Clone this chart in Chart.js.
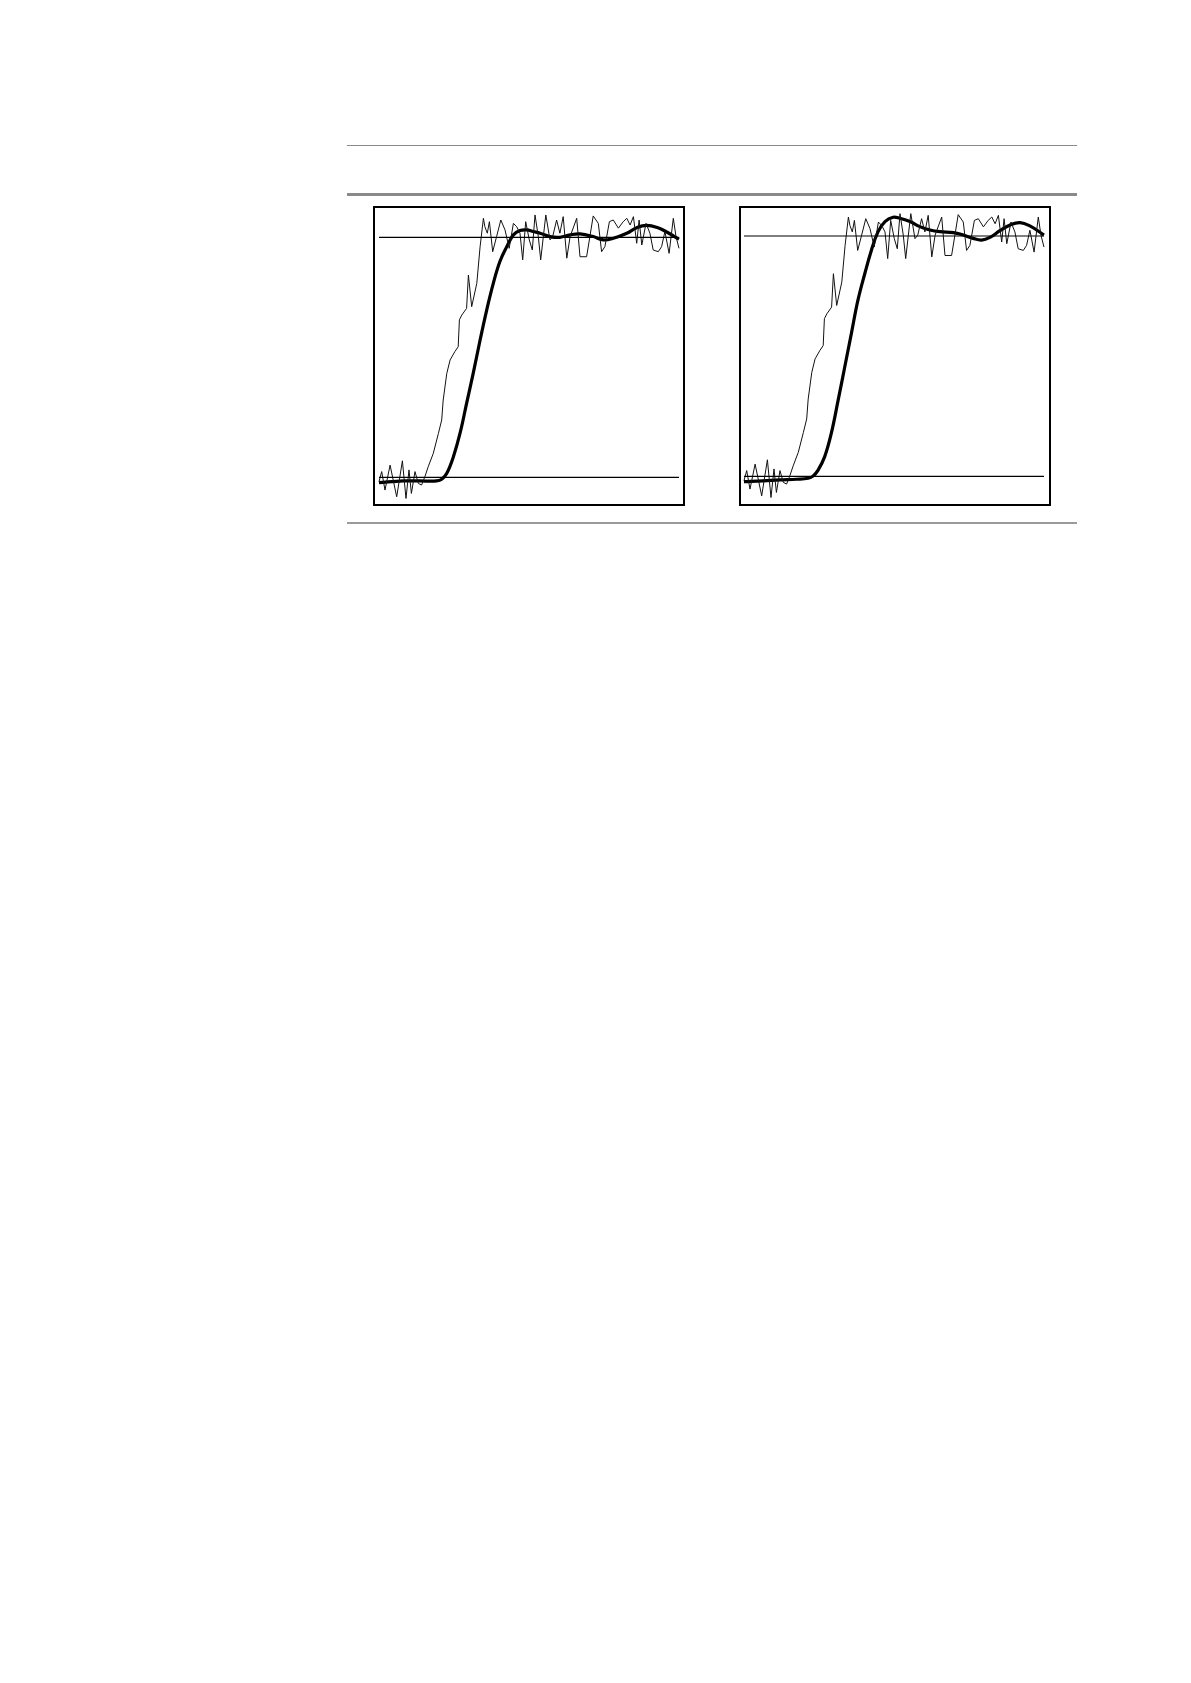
<!DOCTYPE html>
<html>
<head>
<meta charset="utf-8">
<script src="https://cdn.jsdelivr.net/npm/chart.js@4.4.1/dist/chart.umd.min.js"></script>
<style>
  body { margin: 0; background: #fff; width: 1191px; height: 1683px; position: relative; }
  .rule { position: absolute; left: 347px; width: 730px; background: #8a8a8a; }
  .panel { position: absolute; top: 206px; width: 312px; height: 300px; border: 2px solid #000; box-sizing: border-box; }
  .panel canvas { display: block; }
</style>
</head>
<body>
<div class="rule" style="top:145px;height:1px;"></div>
<div class="rule" style="top:193px;height:3px;"></div>
<div class="rule" style="top:522px;height:2px;background:#9a9a9a;"></div>

<div class="panel" style="left:373px;"><canvas id="stepLeft" width="308" height="296"></canvas></div>
<div class="panel" style="left:739px;"><canvas id="stepRight" width="308" height="296"></canvas></div>

<script>
// measured (noisy) step, same in both panels
const noiseT = [0, 0.009, 0.020, 0.037, 0.059, 0.078, 0.090, 0.100, 0.108, 0.120, 0.131, 0.142, 0.153,
  0.164, 0.181, 0.198, 0.209, 0.214, 0.226, 0.237, 0.253, 0.264, 0.268, 0.276, 0.292, 0.298, 0.309,
  0.326, 0.337, 0.348, 0.353, 0.361, 0.368, 0.379, 0.392, 0.406, 0.420, 0.434, 0.448, 0.459, 0.470,
  0.479, 0.489, 0.501, 0.511, 0.520, 0.531, 0.539, 0.556, 0.570, 0.579, 0.592, 0.603, 0.614, 0.626,
  0.637, 0.659, 0.670, 0.692, 0.703, 0.714, 0.731, 0.742, 0.753, 0.768, 0.781, 0.798, 0.814, 0.826,
  0.837, 0.848, 0.859, 0.867, 0.876, 0.890, 0.903, 0.914, 0.931, 0.942, 0.953, 0.967, 0.981, 0.990, 1.000];
const noiseV = [-0.018, 0.024, -0.053, 0.051, -0.081, 0.069, -0.088, 0.031, -0.067, 0.024, -0.025, -0.032, 0.003,
  0.044, 0.100, 0.183, 0.239, 0.322, 0.433, 0.489, 0.524, 0.544, 0.656, 0.676, 0.704, 0.843, 0.711,
  0.808, 0.961, 1.079, 1.044, 1.017, 1.065, 0.940, 1.003, 1.072, 1.031, 0.954, 1.058, 1.044, 1.017,
  0.906, 1.065, 0.989, 0.947, 1.093, 1.003, 0.906, 1.093, 0.989, 1.003, 1.072, 1.017, 1.086, 0.913,
  1.003, 1.079, 0.919, 0.919, 1.003, 1.089, 1.058, 0.940, 0.961, 1.065, 1.072, 1.038, 1.065, 1.079,
  1.051, 1.086, 0.975, 1.072, 0.968, 1.058, 1.017, 0.947, 0.940, 0.961, 1.024, 0.933, 1.079, 1.003, 0.954];

// fitted response, left panel
const fitLeftT = [0, 0.081, 0.137, 0.192, 0.209, 0.226, 0.248, 0.270, 0.292, 0.314, 0.337, 0.359, 0.381,
  0.403, 0.426, 0.448, 0.470, 0.492, 0.514, 0.537, 0.570, 0.603, 0.637, 0.670, 0.714, 0.748, 0.781,
  0.826, 0.859, 0.892, 0.930, 0.959, 1.000];
const fitLeftV = [-0.022, -0.015, -0.015, -0.015, -0.008, 0.017, 0.086, 0.183, 0.308, 0.433, 0.572, 0.697, 0.808,
  0.899, 0.961, 1.010, 1.028, 1.031, 1.024, 1.017, 1.003, 1.000, 1.010, 1.014, 1.003, 0.989, 0.996,
  1.017, 1.040, 1.050, 1.040, 1.022, 0.992];

// fitted response, right panel
const fitRightT = [0, 0.063, 0.119, 0.175, 0.214, 0.230, 0.247, 0.269, 0.291, 0.314, 0.336, 0.358, 0.380,
  0.403, 0.425, 0.447, 0.470, 0.497, 0.519, 0.553, 0.586, 0.620, 0.653, 0.698, 0.731, 0.764, 0.792,
  0.820, 0.853, 0.887, 0.920, 0.953, 1.000];
const fitRightV = [-0.022, -0.019, -0.015, -0.012, -0.008, 0.001, 0.026, 0.082, 0.179, 0.318, 0.456, 0.595, 0.734,
  0.845, 0.942, 1.018, 1.060, 1.078, 1.074, 1.060, 1.039, 1.025, 1.018, 1.014, 1.004, 0.990, 0.983,
  0.994, 1.022, 1.046, 1.056, 1.042, 1.004];

// reference levels
const levelT = [0, 1];
const levels = [0, 1];

function pairs(xs, ys) {
  return xs.map((x, i) => ({ x: x, y: ys[i] }));
}

function stepChart(id, fitT, fitV, xMin, xMax, yMin, yMax) {
  const refSets = levels.map(l => ({
    data: pairs(levelT, levelT.map(() => l)),
    borderColor: '#000',
    borderWidth: 1.2,
    tension: 0
  }));
  new Chart(document.getElementById(id), {
    type: 'scatter',
    data: {
      datasets: refSets.concat([
        {
          data: pairs(noiseT, noiseV),
          borderColor: '#111',
          borderWidth: 1,
          tension: 0
        },
        {
          data: pairs(fitT, fitV),
          borderColor: '#000',
          borderWidth: 3.2,
          tension: 0.4
        }
      ])
    },
    options: {
      responsive: false,
      animation: false,
      showLine: true,
      elements: { point: { radius: 0, hoverRadius: 0 } },
      layout: { padding: 0 },
      plugins: { legend: { display: false }, tooltip: { enabled: false } },
      scales: {
        x: { type: 'linear', min: xMin, max: xMax, display: false },
        y: { type: 'linear', min: yMin, max: yMax, display: false }
      }
    }
  });
}

stepChart('stepLeft', fitLeftT, fitLeftV, -0.0133, 1.0133, -0.111, 1.122);
stepChart('stepRight', fitRightT, fitRightV, -0.010, 1.0167, -0.115, 1.1165);
</script>
</body>
</html>
